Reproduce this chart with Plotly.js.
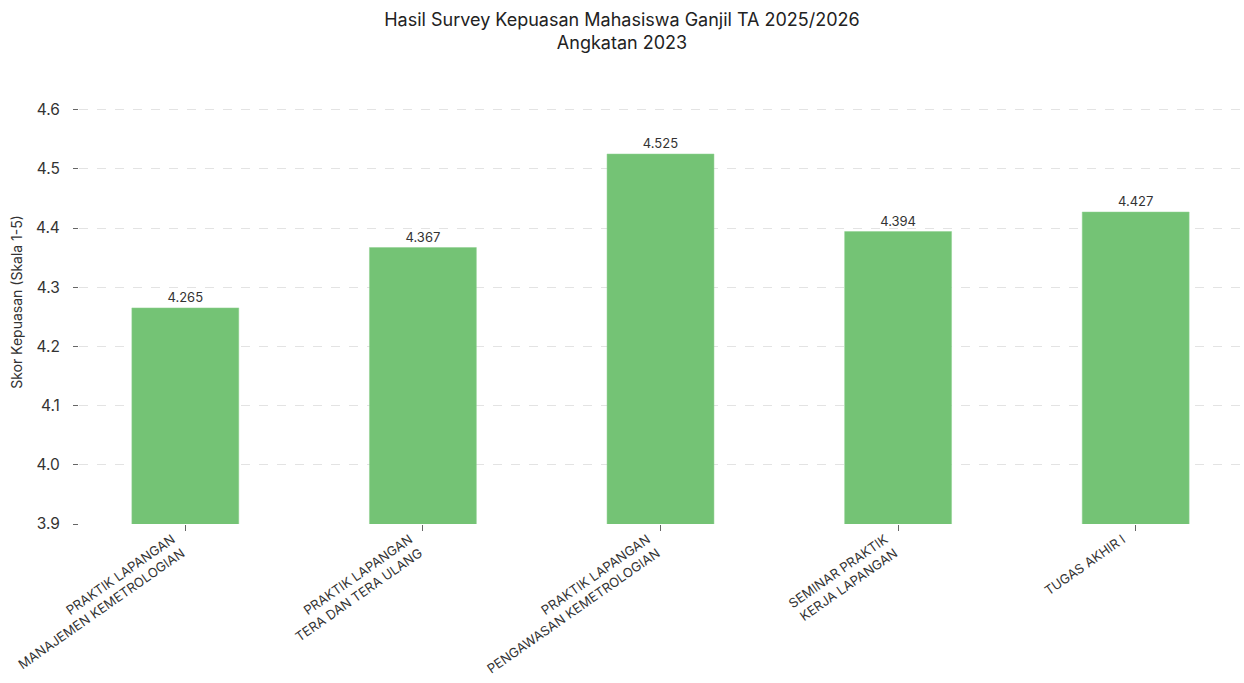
<!DOCTYPE html>
<html>
<head>
<meta charset="utf-8">
<script src="https://cdn.plot.ly/plotly-3.0.1.min.js"></script>
<style>html,body{margin:0;padding:0;background:#fff;}#chart{width:1244px;height:683px;}</style>
</head>
<body>
<div id="chart"></div>
<script>
const categories = [
  "PRAKTIK LAPANGAN<br>MANAJEMEN KEMETROLOGIAN",
  "PRAKTIK LAPANGAN<br>TERA DAN TERA ULANG",
  "PRAKTIK LAPANGAN<br>PENGAWASAN KEMETROLOGIAN",
  "SEMINAR PRAKTIK<br>KERJA LAPANGAN",
  "TUGAS AKHIR I"
];
const scores = [4.265, 4.367, 4.525, 4.394, 4.427];
const scoreLabels = ["4.265", "4.367", "4.525", "4.394", "4.427"];
const yTicks = [3.9, 4.0, 4.1, 4.2, 4.3, 4.4, 4.5, 4.6];

const FONT = "Inter, 'Open Sans', sans-serif";

const trace = {
  type: "bar",
  x: categories,
  y: scores,
  text: scoreLabels,
  textposition: "outside",
  textfont: {family: FONT, size: 13, color: "#333333"},
  cliponaxis: false,
  width: 0.45,
  marker: {color: "#74c375", line: {color: "#8fd190", width: 0.5}},
  hoverinfo: "skip"
};

const layout = {
  width: 1244, height: 683,
  paper_bgcolor: "#ffffff", plot_bgcolor: "#ffffff",
  font: {family: FONT, color: "#333333"},
  margin: {l: 79, r: 2, t: 80, b: 159},
  showlegend: false,
  title: {
    text: "Hasil Survey Kepuasan Mahasiswa Ganjil TA 2025/2026<br>Angkatan 2023",
    font: {family: FONT, size: 18, color: "#222222"},
    x: 0.5, xanchor: "center", y: 0.962, yanchor: "top"
  },
  xaxis: {
    type: "category",
    range: [-0.4475, 4.4475],
    tickangle: -35,
    tickfont: {family: FONT, size: 13, color: "#333333"},
    ticks: "outside", ticklen: 6, tickcolor: "#666666", tickwidth: 1,
    ticklabelshift: -13,
    ticklabelstandoff: -4,
    showgrid: false, zeroline: false, showline: false
  },
  yaxis: {
    range: [3.9, 4.65],
    tickvals: yTicks,
    tickformat: ".1f",
    tickfont: {family: FONT, size: 15.5, color: "#333333"},
    ticks: "outside", ticklen: 5, tickcolor: "#666666", tickwidth: 1,
    ticklabelstandoff: 10,
    showgrid: true, gridcolor: "#e3e3e3", griddash: "dash", gridwidth: 1,
    zeroline: false, showline: false,
    title: {text: "Skor Kepuasan (Skala 1-5)", font: {family: FONT, size: 14, color: "#333333"}, standoff: 10}
  }
};

Plotly.newPlot("chart", [trace], layout, {displayModeBar: false, staticPlot: true});
</script>
</body>
</html>
